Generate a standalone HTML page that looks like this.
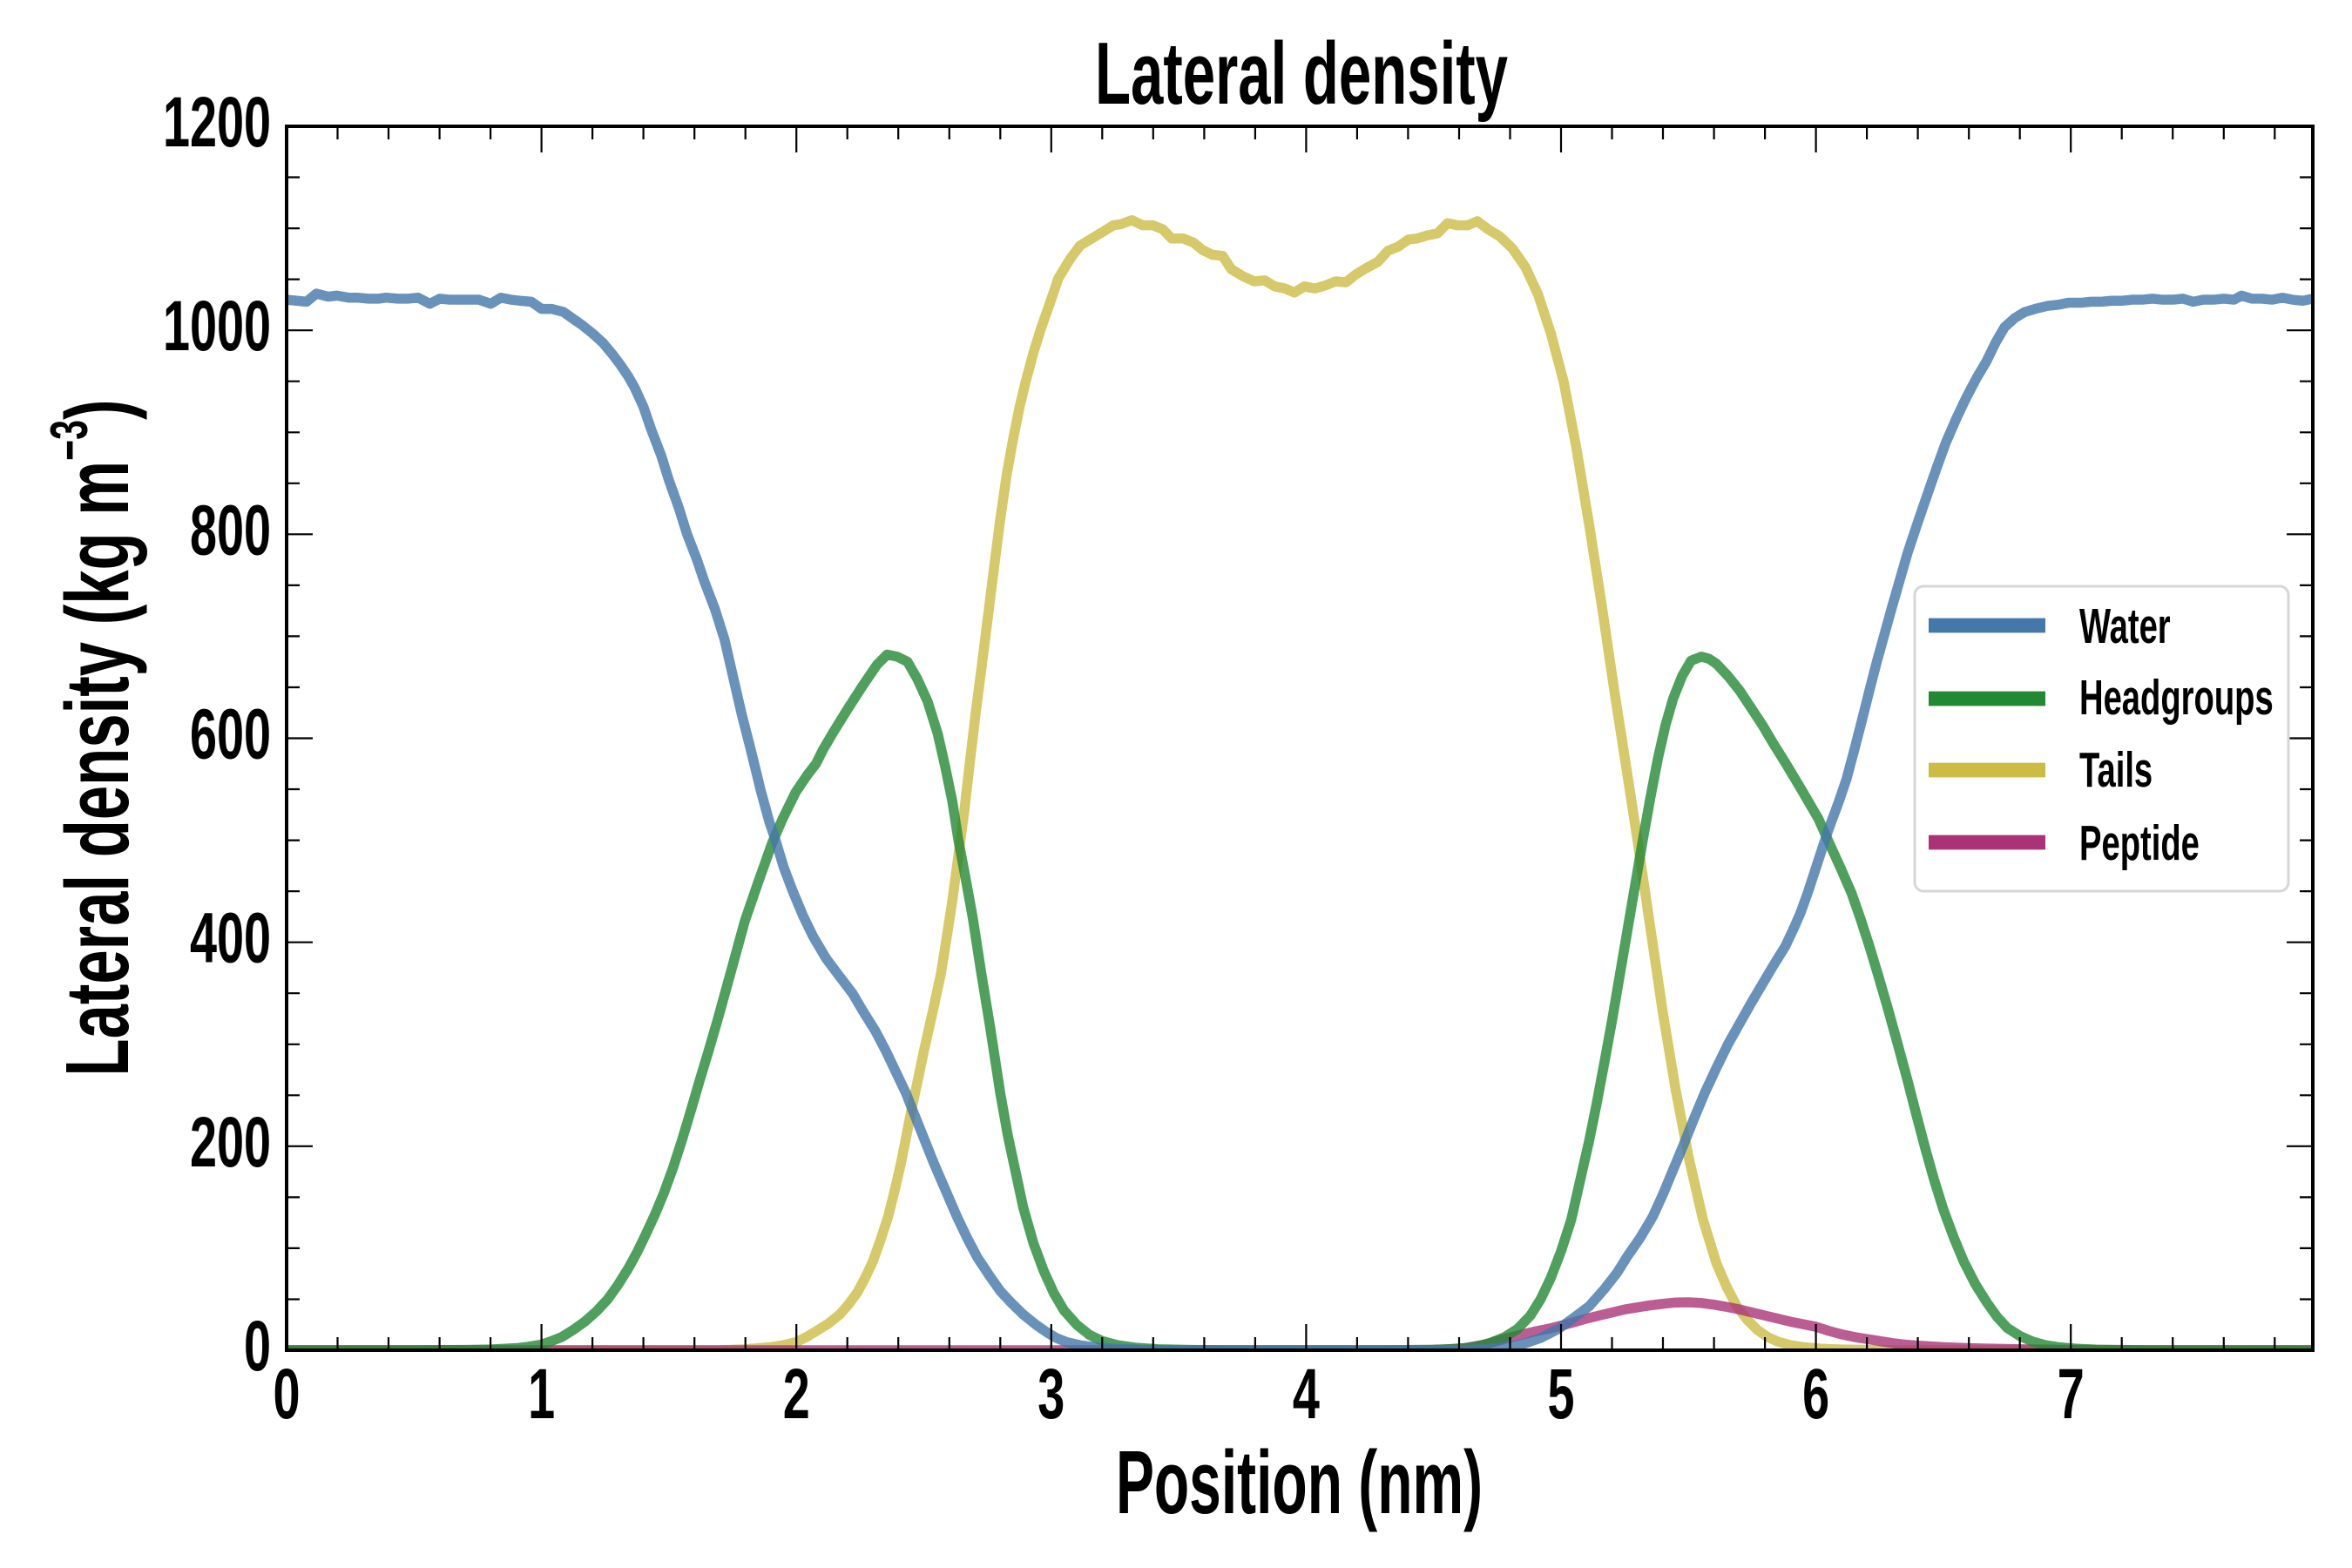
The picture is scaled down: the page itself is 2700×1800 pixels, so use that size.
<!DOCTYPE html>
<html>
<head>
<meta charset="utf-8">
<style>
html,body{margin:0;padding:0;background:#fff;}
svg{display:block;}
text{font-family:"Liberation Sans","DejaVu Sans",sans-serif;font-weight:700;fill:#000;}
</style>
</head>
<body>
<svg width="2700" height="1800" viewBox="0 0 2700 1800" xmlns="http://www.w3.org/2000/svg">
<rect x="0" y="0" width="2700" height="1800" fill="#fff"/>
<defs>
<clipPath id="pc"><rect x="329" y="145" width="2326" height="1405"/></clipPath>
</defs>

<g clip-path="url(#pc)">
<g transform="matrix(292.6 0 0 -1.17083 329 1550)" fill="none" stroke-linejoin="round" stroke-linecap="round">
<!-- Tails -->
<polyline vector-effect="non-scaling-stroke" stroke="#CCBB44" stroke-opacity="0.8" stroke-width="11.5" points="0,0 1.7,0 1.8,1 1.9,3 1.95,5 2.0,8 2.04,13 2.08,19 2.125,26 2.17,35 2.205,45 2.24,57 2.27,71 2.30,87 2.33,108 2.36,131 2.385,156 2.41,183 2.43,208 2.45,234 2.475,263 2.50,293 2.535,332 2.567,369 2.59,405 2.612,441 2.635,484 2.658,527 2.68,575 2.703,624 2.73,676 2.755,726 2.78,776 2.80,815 2.825,858 2.85,893 2.875,924 2.90,950 2.93,978 2.96,1002 2.994,1026 3.028,1051 3.074,1070 3.113,1083 3.159,1090 3.205,1097 3.244,1103 3.273,1104 3.316,1108 3.358,1103 3.398,1103 3.438,1099 3.472,1090 3.518,1090 3.558,1086 3.592,1079 3.632,1074 3.672,1073 3.706,1060 3.752,1053 3.797,1048 3.837,1049 3.877,1043 3.917,1041 3.954,1037 3.993,1043 4.034,1041 4.076,1044 4.116,1048 4.156,1047 4.196,1055 4.236,1061 4.281,1067 4.321,1078 4.361,1082 4.401,1089 4.435,1090 4.475,1093 4.515,1095 4.555,1105 4.594,1103 4.634,1103 4.672,1107 4.714,1099 4.76,1092 4.81,1080 4.86,1062 4.91,1035 4.96,997 5.01,950 5.06,885 5.11,810 5.16,730 5.21,645 5.26,565 5.30,500 5.35,415 5.40,330 5.45,255 5.50,190 5.557,128 5.61,85 5.65,62 5.69,43 5.73,30 5.77,20 5.81,13 5.85,8.5 5.9,5 5.95,3 6.02,1.5 6.1,0.7 6.3,0 7.95,0"/>
<!-- Peptide -->
<polyline vector-effect="non-scaling-stroke" stroke="#AA3377" stroke-opacity="0.8" stroke-width="11.5" points="0,0 4.45,0 4.55,0.8 4.62,2 4.7,5.5 4.75,9 4.8,12.5 4.85,15.5 4.9,18.5 4.95,21 5.0,24 5.05,27.5 5.1,31 5.15,34 5.2,37 5.25,40 5.3,42 5.35,44 5.4,45.5 5.45,46.8 5.5,47 5.55,46.3 5.6,44.7 5.65,42.5 5.7,40 5.75,37 5.8,34 5.85,31 5.9,28 5.95,25.5 6.0,23 6.05,19 6.1,15.6 6.15,13 6.2,11 6.25,9 6.3,7 6.35,5.5 6.4,4.5 6.5,3 6.6,2 6.7,1.5 6.8,1 6.9,0.6 7.0,0.3 7.2,0 7.95,0"/>
<!-- Headgroups -->
<polyline vector-effect="non-scaling-stroke" stroke="#228833" stroke-opacity="0.8" stroke-width="11.5" points="0,0 0.5,0 0.7,0.3 0.8,0.8 0.9,2 0.95,3.5 1.0,5.5 1.04,9 1.08,13 1.125,20 1.17,28 1.215,38 1.26,50 1.30,64 1.34,80 1.375,96 1.41,114 1.445,133 1.48,154 1.515,178 1.55,205 1.585,234 1.62,264 1.655,293 1.69,323 1.741,369 1.798,421 1.849,458 1.906,498 1.946,521 1.997,547 2.043,564 2.077,575 2.105,589 2.145,606 2.202,629 2.259,651 2.316,672 2.356,682 2.396,680 2.436,675 2.475,658 2.515,636 2.555,604 2.584,572 2.612,538 2.635,501 2.663,464 2.692,424 2.726,369 2.76,317 2.80,252 2.83,210 2.86,175 2.89,140 2.93,105 2.97,78 3.01,56 3.05,39 3.10,25 3.15,15 3.20,9 3.26,5 3.33,2.5 3.42,1 3.55,0.3 3.7,0 4.3,0 4.5,0.5 4.6,1.5 4.66,3 4.72,7 4.78,13 4.83,21 4.88,34 4.92,50 4.96,71 5.0,97 5.04,128 5.08,172 5.11,205 5.14,242 5.17,282 5.20,323 5.23,367 5.26,411 5.29,455 5.32,499 5.35,541 5.38,580 5.41,613 5.44,639 5.475,661 5.51,676 5.55,680 5.58,678 5.61,673 5.655,661 5.70,647 5.745,630 5.79,613 5.835,594 5.88,576 5.94,551 6.01,521 6.06,493 6.10,471 6.14,448 6.175,423 6.21,396 6.245,367 6.28,337 6.32,301 6.36,264 6.395,230 6.43,197 6.465,166 6.50,138 6.54,111 6.58,87 6.625,65 6.67,47 6.71,33 6.75,22 6.80,14 6.85,8.5 6.90,5 6.95,3 7.02,1.5 7.1,0.6 7.3,0 7.95,0"/>
<!-- Water -->
<polyline vector-effect="non-scaling-stroke" stroke="#4477AA" stroke-opacity="0.8" stroke-width="11.5" points="0,1030 0.04,1029 0.078,1028 0.117,1036 0.163,1033 0.197,1034 0.243,1032 0.277,1032 0.322,1031 0.36,1031 0.391,1032 0.436,1031 0.476,1031 0.516,1032 0.562,1026 0.601,1031 0.64,1030 0.681,1030 0.72,1030 0.755,1030 0.801,1026 0.841,1032 0.88,1030 0.915,1029 0.96,1028 1.0,1021 1.04,1021 1.086,1018 1.12,1012 1.16,1005 1.2,997 1.24,988 1.28,976 1.31,966 1.34,955 1.365,944 1.40,925 1.43,903 1.47,877 1.50,853 1.54,825 1.57,801 1.61,775 1.64,753 1.68,727 1.718,697 1.752,660 1.786,623 1.821,589 1.86,549 1.894,518 1.917,501 1.951,473 1.986,450 2.026,426 2.065,406 2.117,384 2.168,367 2.22,350 2.26,333 2.31,313 2.35,294 2.39,273 2.43,252 2.46,233 2.50,208 2.54,183 2.585,157 2.63,131 2.67,110 2.71,91 2.755,74 2.80,58 2.845,46 2.89,35 2.94,25 2.98,18 3.02,12 3.06,8 3.11,5 3.17,3 3.25,1.5 3.35,0.5 3.5,0 4.6,0 4.7,1 4.78,3 4.85,6 4.92,12 4.99,21 5.04,30 5.11,43 5.17,60 5.22,76 5.26,92 5.31,110 5.36,131 5.40,153 5.44,177 5.48,201 5.52,226 5.565,253 5.61,277 5.655,300 5.70,320 5.745,340 5.79,359 5.835,378 5.88,396 5.91,412 5.94,429 5.97,450 6.0,473 6.05,511 6.09,538 6.12,560 6.15,588 6.18,617 6.21,647 6.24,676 6.27,703 6.30,730 6.33,756 6.36,782 6.40,812 6.44,841 6.475,866 6.51,890 6.55,913 6.59,934 6.63,953 6.67,970 6.705,988 6.74,1003 6.78,1012 6.82,1018 6.86,1021 6.91,1024 6.95,1025 6.99,1027 7.04,1027 7.08,1028 7.12,1028 7.16,1029 7.2,1029 7.24,1030 7.28,1030 7.32,1031 7.36,1030 7.40,1030 7.44,1031 7.48,1028 7.52,1030 7.56,1030 7.60,1031 7.64,1030 7.67,1034 7.71,1031 7.75,1031 7.79,1030 7.83,1032 7.87,1030 7.91,1029 7.95,1031"/>
</g>
</g>

<!-- Ticks -->
<path fill="none" stroke="#000" stroke-width="2.2" d="
M621.6 1550 v-30 M914.2 1550 v-30 M1206.8 1550 v-30 M1499.4 1550 v-30 M1792 1550 v-30 M2084.6 1550 v-30 M2377.2 1550 v-30
M621.6 145 v30 M914.2 145 v30 M1206.8 145 v30 M1499.4 145 v30 M1792 145 v30 M2084.6 145 v30 M2377.2 145 v30
M387.5 1550 v-15 M446.0 1550 v-15 M504.6 1550 v-15 M563.1 1550 v-15 M680.1 1550 v-15 M738.6 1550 v-15 M797.2 1550 v-15 M855.7 1550 v-15
M972.7 1550 v-15 M1031.2 1550 v-15 M1089.8 1550 v-15 M1148.3 1550 v-15 M1265.3 1550 v-15 M1323.8 1550 v-15 M1382.4 1550 v-15 M1440.9 1550 v-15
M1557.9 1550 v-15 M1616.4 1550 v-15 M1675.0 1550 v-15 M1733.5 1550 v-15 M1850.5 1550 v-15 M1909.0 1550 v-15 M1967.6 1550 v-15 M2026.1 1550 v-15
M2143.1 1550 v-15 M2201.6 1550 v-15 M2260.2 1550 v-15 M2318.7 1550 v-15 M2435.7 1550 v-15 M2494.2 1550 v-15 M2552.8 1550 v-15 M2611.3 1550 v-15
M387.5 145 v15 M446.0 145 v15 M504.6 145 v15 M563.1 145 v15 M680.1 145 v15 M738.6 145 v15 M797.2 145 v15 M855.7 145 v15
M972.7 145 v15 M1031.2 145 v15 M1089.8 145 v15 M1148.3 145 v15 M1265.3 145 v15 M1323.8 145 v15 M1382.4 145 v15 M1440.9 145 v15
M1557.9 145 v15 M1616.4 145 v15 M1675.0 145 v15 M1733.5 145 v15 M1850.5 145 v15 M1909.0 145 v15 M1967.6 145 v15 M2026.1 145 v15
M2143.1 145 v15 M2201.6 145 v15 M2260.2 145 v15 M2318.7 145 v15 M2435.7 145 v15 M2494.2 145 v15 M2552.8 145 v15 M2611.3 145 v15
M329 1315.8 h30 M329 1081.7 h30 M329 847.5 h30 M329 613.3 h30 M329 379.2 h30
M2655 1315.8 h-30 M2655 1081.7 h-30 M2655 847.5 h-30 M2655 613.3 h-30 M2655 379.2 h-30
M329 1491.5 h15 M329 1432.9 h15 M329 1374.4 h15 M329 1257.3 h15 M329 1198.8 h15 M329 1140.2 h15 M329 1023.1 h15 M329 964.6 h15 M329 906.0 h15
M329 789.0 h15 M329 730.4 h15 M329 671.9 h15 M329 554.8 h15 M329 496.3 h15 M329 437.7 h15 M329 320.6 h15 M329 262.1 h15 M329 203.5 h15
M2655 1491.5 h-15 M2655 1432.9 h-15 M2655 1374.4 h-15 M2655 1257.3 h-15 M2655 1198.8 h-15 M2655 1140.2 h-15 M2655 1023.1 h-15 M2655 964.6 h-15 M2655 906.0 h-15
M2655 789.0 h-15 M2655 730.4 h-15 M2655 671.9 h-15 M2655 554.8 h-15 M2655 496.3 h-15 M2655 437.7 h-15 M2655 320.6 h-15 M2655 262.1 h-15 M2655 203.5 h-15
"/>

<!-- Spines -->
<rect x="329" y="145" width="2326" height="1405" fill="none" stroke="#000" stroke-width="4"/>

<!-- Y tick labels -->
<g font-size="82" text-anchor="end">
<text transform="translate(311,1573) scale(0.68,1)">0</text>
<text transform="translate(311,1338.8) scale(0.68,1)">200</text>
<text transform="translate(311,1104.7) scale(0.68,1)">400</text>
<text transform="translate(311,870.5) scale(0.68,1)">600</text>
<text transform="translate(311,636.3) scale(0.68,1)">800</text>
<text transform="translate(311,402.2) scale(0.68,1)">1000</text>
<text transform="translate(311,168) scale(0.68,1)">1200</text>
</g>

<!-- X tick labels -->
<g font-size="82" text-anchor="middle">
<text transform="translate(329,1628) scale(0.68,1)">0</text>
<text transform="translate(621.6,1628) scale(0.68,1)">1</text>
<text transform="translate(914.2,1628) scale(0.68,1)">2</text>
<text transform="translate(1206.8,1628) scale(0.68,1)">3</text>
<text transform="translate(1499.4,1628) scale(0.68,1)">4</text>
<text transform="translate(1792,1628) scale(0.68,1)">5</text>
<text transform="translate(2084.6,1628) scale(0.68,1)">6</text>
<text transform="translate(2377.2,1628) scale(0.68,1)">7</text>
</g>

<!-- Title -->
<text font-size="101" text-anchor="middle" transform="translate(1494,119) scale(0.665,1)">Lateral density</text>

<!-- X label -->
<text font-size="103" text-anchor="middle" transform="translate(1491.5,1737) scale(0.64,1)">Position (nm)</text>

<!-- Y label -->
<text font-size="103" text-anchor="middle" transform="translate(147,847) rotate(-90) scale(0.686,1)">Lateral density (kg m<tspan font-size="60" dy="-47">−3</tspan><tspan font-size="103" dy="47">)</tspan></text>

<!-- Legend -->
<rect x="2198" y="673" width="429" height="350" rx="10" ry="10" fill="#fff" stroke="#d6d6d6" stroke-width="3"/>
<g stroke-width="16.7" stroke-linecap="butt">
<line x1="2214" y1="718" x2="2348" y2="718" stroke="#4477AA"/>
<line x1="2214" y1="802" x2="2348" y2="802" stroke="#228833"/>
<line x1="2214" y1="884" x2="2348" y2="884" stroke="#CCBB44"/>
<line x1="2214" y1="967" x2="2348" y2="967" stroke="#AA3377"/>
</g>
<g font-size="57">
<text transform="translate(2387,738) scale(0.67,1)">Water</text>
<text transform="translate(2387,820) scale(0.67,1)">Headgroups</text>
<text transform="translate(2387,903) scale(0.67,1)">Tails</text>
<text transform="translate(2387,987) scale(0.67,1)">Peptide</text>
</g>
</svg>
</body>
</html>
